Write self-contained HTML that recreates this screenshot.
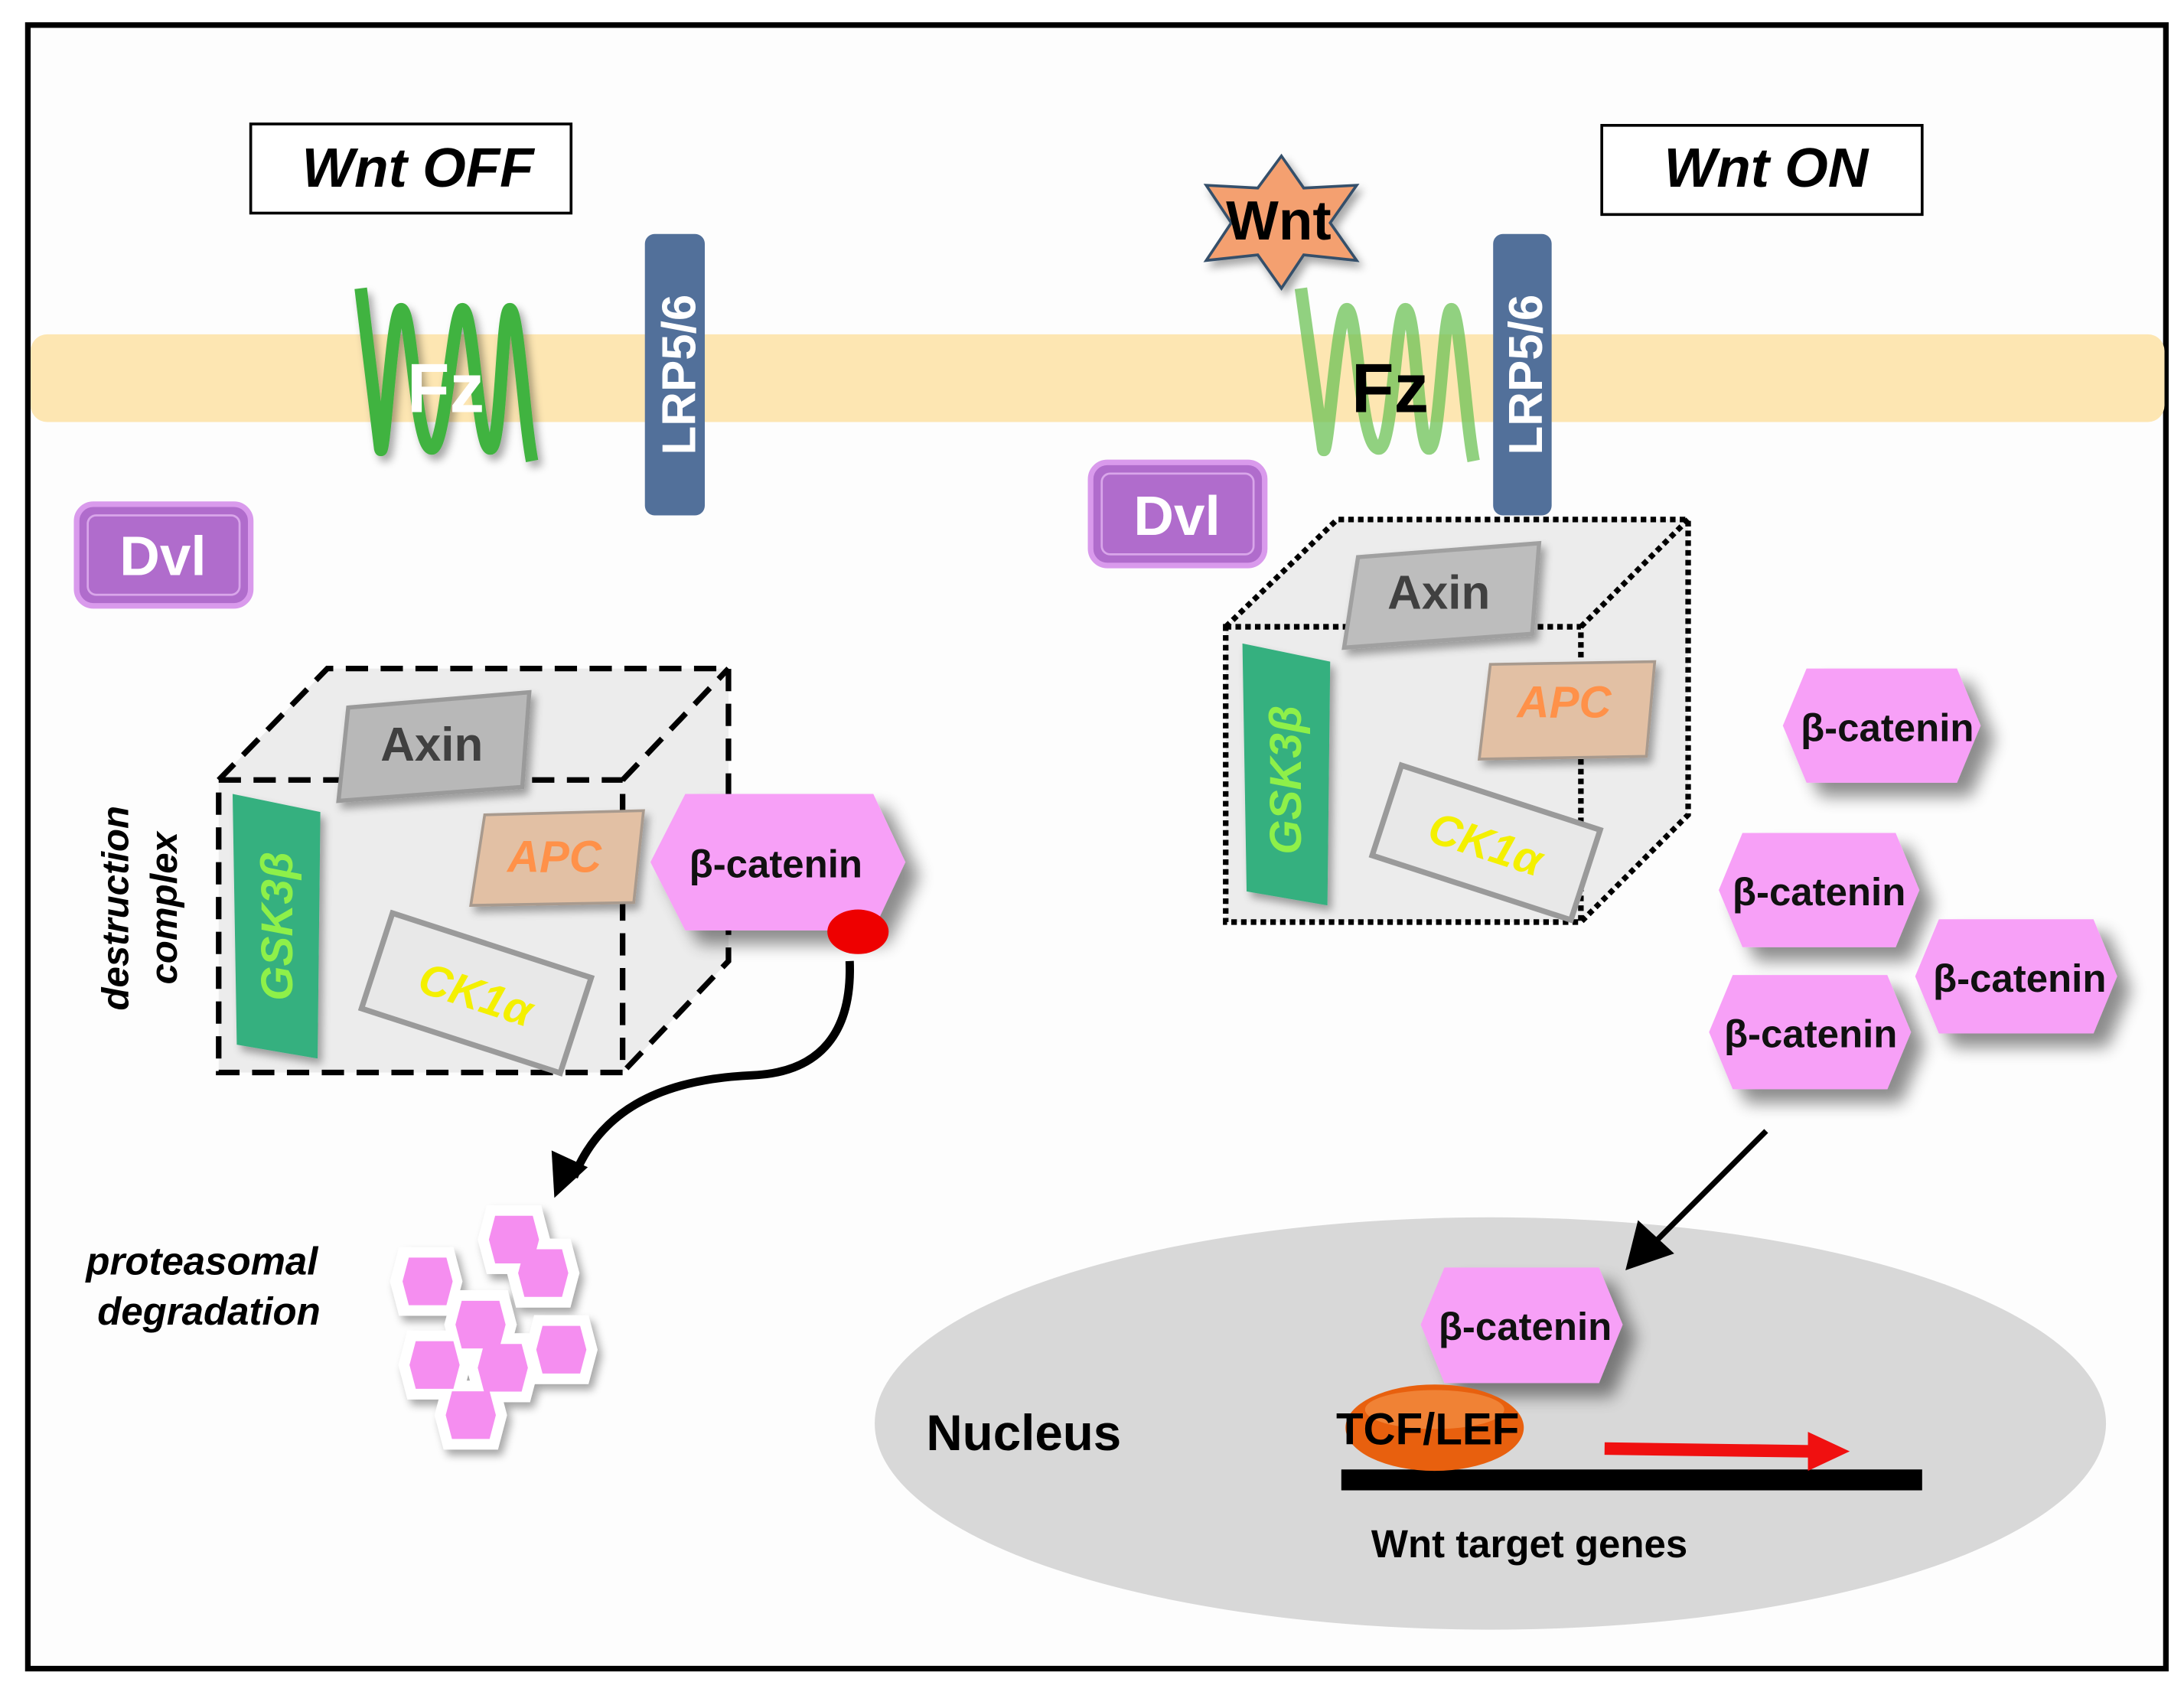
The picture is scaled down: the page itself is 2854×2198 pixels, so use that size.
<!DOCTYPE html>
<html><head><meta charset="utf-8"><style>
html,body{margin:0;padding:0;background:#fff}
svg{display:block}
text{font-family:"Liberation Sans",Arial,sans-serif;font-weight:bold}
</style></head><body>
<svg width="2854" height="2198" viewBox="0 0 1568 1207.6" preserveAspectRatio="none" xmlns="http://www.w3.org/2000/svg">
<defs>
<filter id="sh" x="-30%" y="-30%" width="170%" height="170%"><feGaussianBlur in="SourceAlpha" stdDeviation="6"/><feOffset dx="10" dy="10"/><feComponentTransfer><feFuncA type="linear" slope="0.45"/></feComponentTransfer><feMerge><feMergeNode/><feMergeNode in="SourceGraphic"/></feMerge></filter>
<filter id="sh2" x="-30%" y="-30%" width="170%" height="170%"><feGaussianBlur in="SourceAlpha" stdDeviation="3"/><feOffset dx="3" dy="4"/><feComponentTransfer><feFuncA type="linear" slope="0.35"/></feComponentTransfer><feMerge><feMergeNode/><feMergeNode in="SourceGraphic"/></feMerge></filter>
<symbol id="hex" viewBox="-1 -1 2 2" overflow="visible"><polygon points="-1,0 -0.75,-0.95 0.75,-0.95 1,0 0.75,0.95 -0.75,0.95" /></symbol>
</defs>
<rect x="0" y="0" width="1568" height="1208" fill="#fff"/>
<rect x="20" y="18" width="1535" height="1180" fill="#fdfdfd" stroke="#000" stroke-width="4"/>
<rect x="22" y="240" width="1532" height="63" rx="12" fill="#fde6b2"/>

<rect x="180" y="89" width="230" height="64" fill="#fff" stroke="#000" stroke-width="2"/>
<text x="300" y="134" font-size="40" font-style="italic" text-anchor="middle">Wnt OFF</text>
<rect x="1150" y="90" width="230" height="64" fill="#fff" stroke="#000" stroke-width="2"/>
<text x="1268" y="134" font-size="40" font-style="italic" text-anchor="middle">Wnt ON</text>

<g filter="url(#sh2)">
<path d="M259,207 L273,322 C276,335 281,222 288,222 C296,222 298,322 310,322 C320,322 325,222 332,222 C340,222 343,322 352,322 C360,322 360,222 366,222 C372,222 376,300 382,331" fill="none" stroke="#3fb33f" stroke-width="9" stroke-linecap="butt"/>
</g>
<text x="320" y="296" font-size="50" fill="#fff" text-anchor="middle">Fz</text>
<rect x="463" y="168" width="43" height="202" rx="7" fill="#52709a"/>
<text transform="translate(499,269) rotate(-90)" font-size="34" fill="#fff" text-anchor="middle">LRP5/6</text>
<rect x="55" y="362" width="125" height="73" rx="12" fill="#b06ccc" stroke="#d99aec" stroke-width="4"/>
<rect x="63" y="370" width="109" height="57" rx="6" fill="none" stroke="#d9a6ea" stroke-width="1.5"/>
<text x="117" y="413" font-size="40" fill="#fff" text-anchor="middle">Dvl</text>

<polygon points="157,560 235,480 523,480 523,690 447,770 157,770" fill="#ececec"/>
<g fill="none" stroke="#000" stroke-width="4" stroke-dasharray="16,9">
<rect x="157" y="560" width="290" height="210"/>
<path d="M157,560 L235,480 L523,480 L523,690 L447,770"/>
<path d="M447,560 L523,480"/>
</g>
<g filter="url(#sh2)">
<polygon points="250,508 380,497 375,565 243,575" fill="#b8b8b8" stroke="#9a9a9a" stroke-width="3"/>
<text x="310" y="546" font-size="34" fill="#404040" text-anchor="middle">Axin</text>
</g>
<g filter="url(#sh2)">
<polygon points="167,570 230,583 228,760 170,750" fill="#35b07f"/>
<text transform="translate(210,665) rotate(-90)" font-size="32" fill="#8ef04a" font-style="italic" text-anchor="middle">GSK3β</text>
</g>
<g filter="url(#sh2)">
<polygon points="348,585 462,582 455,648 338,650" fill="#e2c0a4" stroke="#a89a8e" stroke-width="2"/>
<text x="398" y="626" font-size="32" fill="#ff9148" font-style="italic" text-anchor="middle">APC</text>
</g>
<g transform="translate(342,713) rotate(18)">
<rect x="-75" y="-36" width="150" height="72" fill="#e8e8e8" stroke="#9a9a9a" stroke-width="4"/>
<text x="0" y="12" font-size="32" fill="#f4f000" font-style="italic" text-anchor="middle">CK1α</text>
</g>
<text transform="translate(92,652) rotate(-90)" font-size="27" font-style="italic" text-anchor="middle">destruction</text>
<text transform="translate(127,652) rotate(-90)" font-size="27" font-style="italic" text-anchor="middle">complex</text>

<g filter="url(#sh)"><polygon points="467,619 492,570 627,570 650,619 627,668 492,668" fill="#f7a0f7"/></g>
<text x="557" y="630" font-size="28" fill="#111" text-anchor="middle">β-catenin</text>
<ellipse cx="616" cy="669" rx="22" ry="16" fill="#ee0000"/>
<path d="M610,690 C612,740 590,770 540,772 C470,775 430,800 412,845" fill="none" stroke="#000" stroke-width="6"/>
<polygon points="398,860 396,826 422,838" fill="#000"/>

<text x="145" y="915" font-size="28" font-style="italic" text-anchor="middle">proteasomal</text>
<text x="150" y="951" font-size="28" font-style="italic" text-anchor="middle">degradation</text>
<g filter="url(#sh2)">
<g fill="#fff"><use href="#hex" x="280" y="894" width="52" height="52"/><use href="#hex" x="343" y="864" width="52" height="52"/><use href="#hex" x="364" y="888" width="52" height="52"/><use href="#hex" x="319" y="925" width="52" height="52"/><use href="#hex" x="377" y="943" width="52" height="52"/><use href="#hex" x="286" y="954" width="52" height="52"/><use href="#hex" x="312" y="990" width="52" height="52"/><use href="#hex" x="335" y="956" width="52" height="52"/></g>
</g>
<g fill="#f58ef0">
<use href="#hex" x="288" y="902" width="38" height="36"/><use href="#hex" x="371" y="896" width="38" height="36"/><use href="#hex" x="350" y="872" width="38" height="36"/><use href="#hex" x="326" y="933" width="38" height="36"/><use href="#hex" x="384" y="951" width="38" height="36"/><use href="#hex" x="293" y="962" width="38" height="36"/><use href="#hex" x="319" y="998" width="38" height="36"/><use href="#hex" x="342" y="964" width="38" height="36"/>
</g>

<path d="M934,207 L950,322 C953,335 960,222 967,222 C975,222 976,322 990,322 C1000,322 1002,222 1009,222 C1017,222 1018,322 1026,322 C1034,322 1036,222 1042,222 C1048,222 1052,300 1058,331" fill="none" stroke="#6cc255" stroke-opacity="0.75" stroke-width="9"/>
<text x="998" y="296" font-size="50" fill="#000" text-anchor="middle">Fz</text>
<g filter="url(#sh2)">
<polygon points="920,112 936,135 974,133 955,160 974,187 936,183 920,207 903,183 866,187 884,160 866,133 903,135" fill="#f4a070" stroke="#34506a" stroke-width="2"/>
</g>
<text x="918" y="172" font-size="40" fill="#000" text-anchor="middle">Wnt</text>
<rect x="1072" y="168" width="42" height="202" rx="7" fill="#52709a"/>
<text transform="translate(1107,269) rotate(-90)" font-size="34" fill="#fff" text-anchor="middle">LRP5/6</text>
<rect x="783" y="332" width="125" height="74" rx="12" fill="#b06ccc" stroke="#d99aec" stroke-width="4"/>
<rect x="791" y="340" width="109" height="58" rx="6" fill="none" stroke="#d9a6ea" stroke-width="1.5"/>
<text x="845" y="384" font-size="40" fill="#fff" text-anchor="middle">Dvl</text>

<polygon points="880,450 960,373 1212,373 1212,585 1135,662 880,662" fill="#ececec"/>
<g fill="none" stroke="#000" stroke-width="4" stroke-dasharray="4,3">
<rect x="880" y="450" width="255" height="212"/>
<path d="M880,450 L960,373 L1212,373 L1212,585 L1135,662"/>
<path d="M1135,450 L1212,373"/>
</g>
<g filter="url(#sh2)">
<polygon points="975,400 1105,390 1100,455 965,465" fill="#bdbdbd" stroke="#a0a0a0" stroke-width="3"/>
<text x="1033" y="437" font-size="34" fill="#404040" text-anchor="middle">Axin</text>
</g>
<g filter="url(#sh2)">
<polygon points="892,462 955,475 953,650 895,640" fill="#35b07f"/>
<text transform="translate(934,560) rotate(-90)" font-size="32" fill="#8ef04a" font-style="italic" text-anchor="middle">GSK3β</text>
</g>
<g filter="url(#sh2)">
<polygon points="1070,477 1188,475 1182,543 1062,545" fill="#e2c0a4" stroke="#a89a8e" stroke-width="2"/>
<text x="1123" y="515" font-size="32" fill="#ff9148" font-style="italic" text-anchor="middle">APC</text>
</g>
<g transform="translate(1067,605) rotate(18)">
<rect x="-75" y="-34" width="150" height="68" fill="#e8e8e8" stroke="#9a9a9a" stroke-width="4"/>
<text x="0" y="12" font-size="32" fill="#f4f000" font-style="italic" text-anchor="middle">CK1α</text>
</g>

<g filter="url(#sh)">
<polygon points="1280,521 1297,480 1405,480 1422,521 1405,562 1297,562" fill="#f7a0f7"/>
<polygon points="1234,639 1251,598 1361,598 1378,639 1361,680 1251,680" fill="#f7a0f7"/>
<polygon points="1375,701 1392,660 1503,660 1520,701 1503,742 1392,742" fill="#f7a0f7"/>
<polygon points="1227,741 1244,700 1355,700 1372,741 1355,782 1244,782" fill="#f7a0f7"/>
</g>
<g font-size="28" fill="#111" text-anchor="middle">
<text x="1355" y="532">β-catenin</text>
<text x="1306" y="650">β-catenin</text>
<text x="1450" y="712">β-catenin</text>
<text x="1300" y="752">β-catenin</text>
</g>

<ellipse cx="1070" cy="1022" rx="442" ry="148" fill="#d8d8d8"/>
<line x1="1268" y1="812" x2="1185" y2="895" stroke="#000" stroke-width="4"/>
<polygon points="1167,912 1176,876 1202,900" fill="#000"/>
<text x="735" y="1041" font-size="36" fill="#000" text-anchor="middle">Nucleus</text>
<g filter="url(#sh)"><polygon points="1020,951 1037,910 1148,910 1165,951 1148,993 1037,993" fill="#f7a0f7"/></g>
<text x="1095" y="962" font-size="28" fill="#111" text-anchor="middle">β-catenin</text>
<rect x="963" y="1055" width="417" height="15" fill="#000"/>
<ellipse cx="1030" cy="1025" rx="64" ry="31" fill="#e8600e"/>
<ellipse cx="1030" cy="1012" rx="50" ry="14" fill="#f59a50" opacity="0.6"/>
<text x="1025" y="1037" font-size="32" fill="#000" text-anchor="middle">TCF/LEF</text>
<line x1="1152" y1="1040" x2="1300" y2="1042" stroke="#f01010" stroke-width="9"/>
<polygon points="1298,1028 1328,1042 1298,1056" fill="#f01010"/>
<text x="1098" y="1118" font-size="28" fill="#000" text-anchor="middle">Wnt target genes</text>
</svg>
</body></html>
